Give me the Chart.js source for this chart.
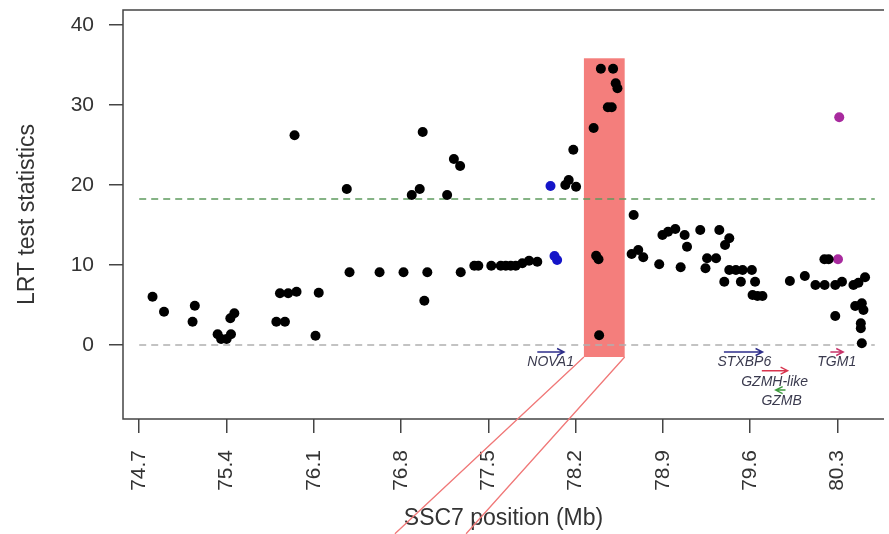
<!DOCTYPE html>
<html>
<head>
<meta charset="utf-8">
<script src="https://cdn.jsdelivr.net/npm/chart.js@4.4.0/dist/chart.umd.min.js"></script>
<style>
  html, body { margin: 0; padding: 0; background: #fff; overflow: hidden; }
  #wrap { width: 889px; height: 534px; }
</style>
</head>
<body>
<div id="wrap"><canvas id="myChart" width="889" height="534"></canvas></div>
<script>
// SNP positions (Mb) and LRT statistics
const blackX = [74.807,74.899,75.146,75.128,75.329,75.357,75.401,75.436,75.431,75.463,75.800,75.869,75.829,75.895,75.962,75.946,76.114,76.140,76.365,76.387,76.628,76.820,76.886,76.950,76.974,77.011,76.987,77.170,77.224,77.274,77.279,77.388,77.420,77.524,77.600,77.640,77.680,77.720,77.773,77.827,77.893,78.118,78.145,78.204,78.182,78.345,78.403,78.501,78.522,78.536,78.459,78.490,78.365,78.384,78.389,78.666,78.650,78.703,78.743,78.871,78.897,78.942,79.000,79.043,79.075,79.094,79.200,79.255,79.327,79.242,79.353,79.399,79.433,79.393,79.433,79.486,79.540,79.614,79.526,79.640,79.620,79.659,79.699,79.919,80.039,80.124,80.198,80.196,80.230,80.283,80.283,80.337,80.429,80.469,80.522,80.443,80.496,80.509,80.488,80.488,80.496];
const blackY = [6.04,4.16,4.91,2.91,1.34,0.75,0.75,1.34,3.34,3.96,2.91,2.91,6.46,6.46,6.66,26.21,1.16,6.54,19.5,9.09,9.09,9.09,18.75,19.5,26.63,9.09,5.54,18.75,23.25,22.38,9.09,9.91,9.91,9.91,9.91,9.91,9.91,9.91,10.21,10.54,10.41,20.0,20.63,19.79,24.41,27.13,34.54,34.54,32.71,32.09,29.71,29.71,11.16,10.71,1.21,16.25,11.38,11.88,10.96,10.09,13.75,14.16,14.5,9.71,13.75,12.29,14.38,10.84,10.84,9.59,14.38,12.5,13.34,7.91,9.38,9.38,9.38,9.38,7.91,7.91,6.25,6.13,6.13,8.0,8.63,7.5,7.5,10.71,10.71,3.63,7.5,7.91,7.5,7.79,8.46,4.88,5.21,4.38,2.71,2.09,0.21];
const blueX = [77.999,78.031,78.052];
const blueY = [19.88,11.13,10.63];
const magentaX = [80.305,80.315];
const magentaY = [10.71,28.46];

const xTicks = [74.7,75.4,76.1,76.8,77.5,78.2,78.9,79.6,80.3];
const yTicks = [0,10,20,30,40];
const threshold = 18.25;
const lineStartEnd = [74.7,80.6];

// highlighted region and its zoom connectors
const regionX = [78.267,78.594];
const regionY = [-1.5,35.84];
const connectorEndX = [76.751,77.322];
const connectorEndY = -23.6;

// genes: name, start, end (arrow direction), arrow row, label position
const geneNames = ['NOVA1','STXBP6','GZMH-like','GZMB','TGM1'];
const geneStart = [77.893,79.390,79.694,79.884,80.244];
const geneEnd   = [78.108,79.700,79.901,79.805,80.347];
const geneArrowY = [-0.875,-0.875,-3.21,-5.63,-0.875];
const geneLabelX = [78.000,79.554,79.797,79.853,80.295];
const geneLabelY = [-2.19,-2.19,-4.59,-6.96,-2.19];
const geneColors = ['#2e2e8a','#2e2e8a','#d8344e','#3c9a3c','#c8346a'];

const FONT = "'Liberation Sans', Arial, sans-serif";

function toPoints(xs, ys){
    return xs.map((x,i) => ({x:x, y:ys[i]}));
}

const overlay = {
    id:'overlay',
    beforeDatasetsDraw(chart){
        const {ctx, chartArea, scales:{x, y}} = chart;
        ctx.save();
        // frame (no right side, as in the cropped figure)
        ctx.strokeStyle = '#444';
        ctx.lineWidth = 1.5;
        ctx.beginPath();
        ctx.moveTo(chartArea.right, chartArea.top);
        ctx.lineTo(chartArea.left, chartArea.top);
        ctx.lineTo(chartArea.left, chartArea.bottom);
        ctx.lineTo(chartArea.right, chartArea.bottom);
        ctx.stroke();
        // highlighted region
        const x0 = x.getPixelForValue(regionX[0]), x1 = x.getPixelForValue(regionX[1]);
        const y0 = y.getPixelForValue(regionY[0]), y1 = y.getPixelForValue(regionY[1]);
        ctx.fillStyle = 'rgb(244,126,124)';
        ctx.fillRect(x0, y1, x1-x0, y0-y1);
        ctx.strokeStyle = 'rgb(240,120,120)';
        ctx.lineWidth = 1.3;
        const ey = y.getPixelForValue(connectorEndY);
        ctx.beginPath();
        ctx.moveTo(x0, y0);
        ctx.lineTo(x.getPixelForValue(connectorEndX[0]), ey);
        ctx.moveTo(x1, y0);
        ctx.lineTo(x.getPixelForValue(connectorEndX[1]), ey);
        ctx.stroke();
        ctx.restore();
    },
    afterDatasetsDraw(chart){
        const {ctx, scales:{x, y}} = chart;
        ctx.save();
        geneNames.forEach((name,i) => {
            const xs = x.getPixelForValue(geneStart[i]);
            const xe = x.getPixelForValue(geneEnd[i]);
            const ya = y.getPixelForValue(geneArrowY[i]);
            const dir = xe > xs ? 1 : -1;
            ctx.strokeStyle = geneColors[i];
            ctx.lineWidth = 1.4;
            ctx.beginPath();
            ctx.moveTo(xs, ya);
            ctx.lineTo(xe, ya);
            ctx.moveTo(xe - dir*7, ya - 3.5);
            ctx.lineTo(xe, ya);
            ctx.lineTo(xe - dir*7, ya + 3.5);
            ctx.stroke();
            ctx.fillStyle = '#3a3a4e';
            ctx.font = 'italic 14px ' + FONT;
            ctx.textAlign = 'center';
            ctx.textBaseline = 'middle';
            ctx.fillText(name, x.getPixelForValue(geneLabelX[i]), y.getPixelForValue(geneLabelY[i]));
        });
        ctx.restore();
    }
};

function refLine(value, color){
    return {
        type:'line',
        data:[{x:lineStartEnd[0], y:value},{x:lineStartEnd[1], y:value}],
        borderColor:color,
        borderWidth:1.5,
        borderDash:[7,5],
        pointRadius:0,
        showLine:true
    };
}

new Chart(document.getElementById('myChart'), {
    type:'scatter',
    data:{
        datasets:[
            {data:toPoints(blackX,blackY), backgroundColor:'#000', borderColor:'#000', pointRadius:5, borderWidth:0},
            {data:toPoints(blueX,blueY), backgroundColor:'#1414c8', borderColor:'#1414c8', pointRadius:5, borderWidth:0},
            {data:toPoints(magentaX,magentaY), backgroundColor:'#a82a9e', borderColor:'#a82a9e', pointRadius:5, borderWidth:0},
            refLine(threshold,'#5e9a5e'),
            refLine(0,'#b0b0b0')
        ]
    },
    options:{
        responsive:false,
        animation:false,
        events:[],
        layout:{padding:{top:10,left:0,right:0,bottom:0}},
        plugins:{legend:{display:false}, tooltip:{enabled:false}},
        scales:{
            x:{
                type:'linear',
                min:74.570, max:80.674,
                afterBuildTicks(axis){ axis.ticks = xTicks.map(v => ({value:v})); },
                afterFit(axis){ axis.height = 115; axis.paddingLeft = 0; axis.paddingRight = 0; },
                grid:{display:true, drawOnChartArea:false, drawTicks:true, tickLength:14, color:'#444', lineWidth:1.5},
                border:{display:false},
                ticks:{
                    autoSkip:false, minRotation:90, maxRotation:90, padding:17,
                    color:'#333', font:{family:FONT, size:21},
                    callback:(v) => Number(v).toFixed(1)
                },
                title:{display:true, text:'SSC7 position (Mb)', color:'#333', font:{family:FONT, size:23}, padding:{top:0,bottom:2}}
            },
            y:{
                type:'linear',
                min:-9.25, max:41.875,
                afterBuildTicks(axis){ axis.ticks = yTicks.map(v => ({value:v})); },
                afterFit(axis){ axis.width = 123; axis.paddingTop = 0; axis.paddingBottom = 0; },
                grid:{display:true, drawOnChartArea:false, drawTicks:true, tickLength:14, color:'#444', lineWidth:1.5},
                border:{display:false},
                ticks:{padding:15, color:'#333', font:{family:FONT, size:21}, callback:(v) => v},
                title:{display:true, text:'LRT test statistics', color:'#333', font:{family:FONT, size:23}, padding:{top:14,bottom:0}}
            }
        }
    },
    plugins:[overlay]
});
</script>
</body>
</html>
